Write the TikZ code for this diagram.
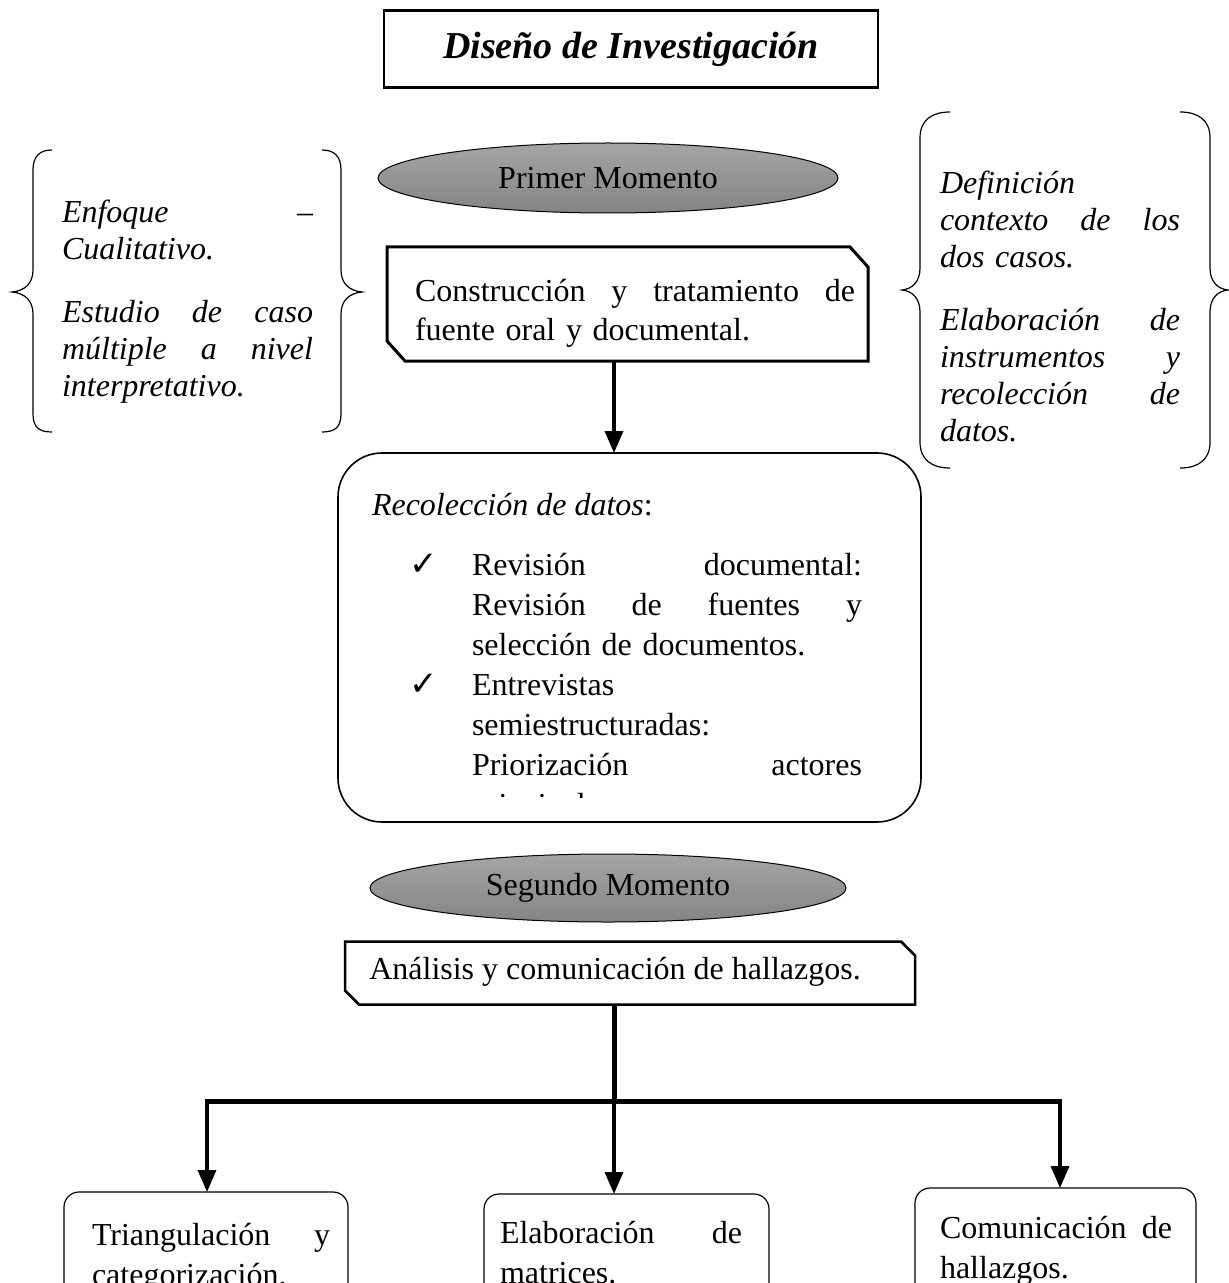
\documentclass[tikz,border=0pt]{standalone}
\usepackage{fontspec}
\setmainfont{Liberation Serif}
\newfontfamily\chkfont{DejaVu Sans}
\usetikzlibrary{arrows.meta,calc,shapes.geometric}
\definecolor{momtop}{RGB}{165,165,165}
\definecolor{mombot}{RGB}{132,132,132}
% check mark that hangs to the left of a list item
\newcommand{\tickmark}{\noindent\llap{{\chkfont\fontsize{17}{20}\selectfont ✓}\hspace{17pt}}}
\begin{document}
\begin{tikzpicture}[x=0.5pt,y=-0.5pt,
  txt/.style={inner sep=0pt,outer sep=0pt,anchor=north west,font=\fontsize{16}{20}\selectfont},
  bracetxt/.style={inner sep=0pt,outer sep=0pt,anchor=north west,font=\fontsize{16}{18.5}\selectfont\itshape},
  moment/.style={ellipse,draw,line width=0.5pt,top color=momtop,bottom color=mombot,
    font=\fontsize{16}{20}\selectfont,inner sep=0pt},
  frame/.style={rectangle,inner sep=0pt,outer sep=0pt},
  roundbox/.style={rectangle,draw,rounded corners=7.5pt,line width=0.6pt,inner sep=0pt,outer sep=0pt},
  brace/.style={line width=0.6pt},
  link/.style={line width=1.7pt,-{Triangle[length=11pt,width=9pt]}},
  trunk/.style={line width=2.5pt},
]
\path[use as bounding box] (0,0) rectangle (1229,1283);
\fill[white] (0,0) rectangle (1229,1283);
\clip (0,0) rectangle (1229,1283);

% main axis of the flow
\coordinate (axis) at (614,0);

% title
\node[draw,line width=1.3pt,inner sep=0pt,minimum width=247pt,minimum height=38.5pt,
  font=\fontsize{19}{22}\selectfont\bfseries\itshape] (title) at (631,49) {\raisebox{-1.5pt}{Diseño de Investigación}};

% first stage
\node[moment,minimum width=230pt,minimum height=35pt] (m1) at (608,178) {Primer Momento};

\node[frame,minimum width=240.5pt,minimum height=57pt] (cons) at (627.5,304) {};
\draw[line width=1.5pt] (cons.north west) -- ($(cons.north east)+(-18,0)$) -- ($(cons.north east)+(0,20)$)
  -- (cons.south east) -- ($(cons.south west)+(18,0)$) -- ($(cons.south west)+(0,-20)$) -- cycle;
\node[txt,text width=220pt] (tcons) at (415,273)
  {\strut Construcción\hfill y\hfill tratamiento\hfill de\\ fuente oral y documental.};

% left bracket group
\draw[brace] (52,150) .. controls (40,150) and (33,156) .. (33,170) -- (33,270)
  .. controls (33,284) and (24,291) .. (12,292) .. controls (24,293) and (33,300) .. (33,314)
  -- (33,414) .. controls (33,428) and (40,432) .. (52,432);
\draw[brace] (322,150) .. controls (334,150) and (341,156) .. (341,170) -- (341,270)
  .. controls (341,284) and (350,291) .. (362,292) .. controls (350,293) and (341,300) .. (341,314)
  -- (341,414) .. controls (341,428) and (334,432) .. (322,432);
\node[bracetxt,text width=125.5pt] (left) at (62,197)
  {\strut Enfoque\hfill –\\ Cualitativo.\\[13pt] Estudio\hfill de\hfill caso\\ múltiple\hfill a\hfill nivel\\ interpretativo.};

% right bracket group
\draw[brace] (950,112) .. controls (932,112) and (920,120) .. (920,138) -- (920,268)
  .. controls (920,282) and (912,289) .. (902,290) .. controls (912,291) and (920,298) .. (920,312)
  -- (920,442) .. controls (920,460) and (932,468) .. (950,468);
\draw[brace] (1180,112) .. controls (1198,112) and (1210,120) .. (1210,138) -- (1210,268)
  .. controls (1210,282) and (1218,289) .. (1228,290) .. controls (1218,291) and (1210,298) .. (1210,312)
  -- (1210,442) .. controls (1210,460) and (1198,468) .. (1180,468);
\node[bracetxt,text width=120pt] (right) at (940,168)
  {\strut Definición\\ contexto\hfill de\hfill los\\ dos casos.\\[13pt] Elaboración\hfill de\\
   instrumentos\hfill y\\ recolección\hfill de\\ datos.};

% data collection
\node[roundbox,rounded corners=22pt,line width=0.8pt,minimum width=291.5pt,minimum height=184.5pt] (rec) at (629.5,637.5) {};
\draw[link] (cons.south -| axis) -- (rec.north -| axis);
\node[txt] (trec) at (372,487) {\strut\textit{Recolección de datos}:};
\node[txt,text width=195pt] (item1) at (472,547)
  {\tickmark\strut Revisión\hfill documental:\\
   Revisión\hfill de\hfill fuentes\hfill y\\ selección de documentos.};
\begin{scope}
  \clip (340,455) rectangle (920,797);
  \node[txt,text width=195pt] (item2) at (472,667)
    {\tickmark\strut Entrevistas\\
     semiestructuradas:\\ Priorización\hfill actores\\ principales.};
\end{scope}

% second stage
\node[moment,minimum width=238pt,minimum height=34pt] (m2) at (608,888) {Segundo Momento};

\node[frame,minimum width=285pt,minimum height=31.5pt] (ana) at (630,973) {};
\draw[line width=1.25pt] (ana.north west) -- ($(ana.north east)+(-14,0)$) -- ($(ana.north east)+(0,14)$)
  -- (ana.south east) -- ($(ana.south west)+(14,0)$) -- ($(ana.south west)+(0,-14)$) -- cycle;
\node[inner sep=0pt,anchor=base,font=\fontsize{16}{20}\selectfont] (tana) at (615,979)
  {Análisis y comunicación de hallazgos.};

% branches
\coordinate (hub) at (614,1101);
\coordinate (hl) at (207,1101);
\coordinate (hr) at (1060,1101);

\node[roundbox,minimum width=142pt,minimum height=100pt] (b1) at (206,1292) {};
\node[roundbox,minimum width=142.5pt,minimum height=100pt] (b2) at (626.5,1294) {};
\node[roundbox,minimum width=140.5pt,minimum height=100pt] (b3) at (1055.5,1288) {};

\draw[trunk] (ana.south -| axis) -- (hub);
\draw[trunk] ($(hl)+(-2,0)$) -- ($(hr)+(2,0)$);
\draw[link] (hl) -- (hl |- b1.north);
\draw[link] (hub) -- (hub |- b2.north);
\draw[link] (hr) -- (hr |- b3.north);

\node[txt,text width=119pt] (tb1) at (92,1217) {\strut Triangulación\hfill y\\ categorización.};
\node[txt,text width=121pt] (tb2) at (500,1215) {\strut Elaboración\hfill de\\ matrices.};
\node[txt,text width=116pt] (tb3) at (940,1210) {\strut Comunicación\hfill de\\ hallazgos.};
\end{tikzpicture}
\end{document}
